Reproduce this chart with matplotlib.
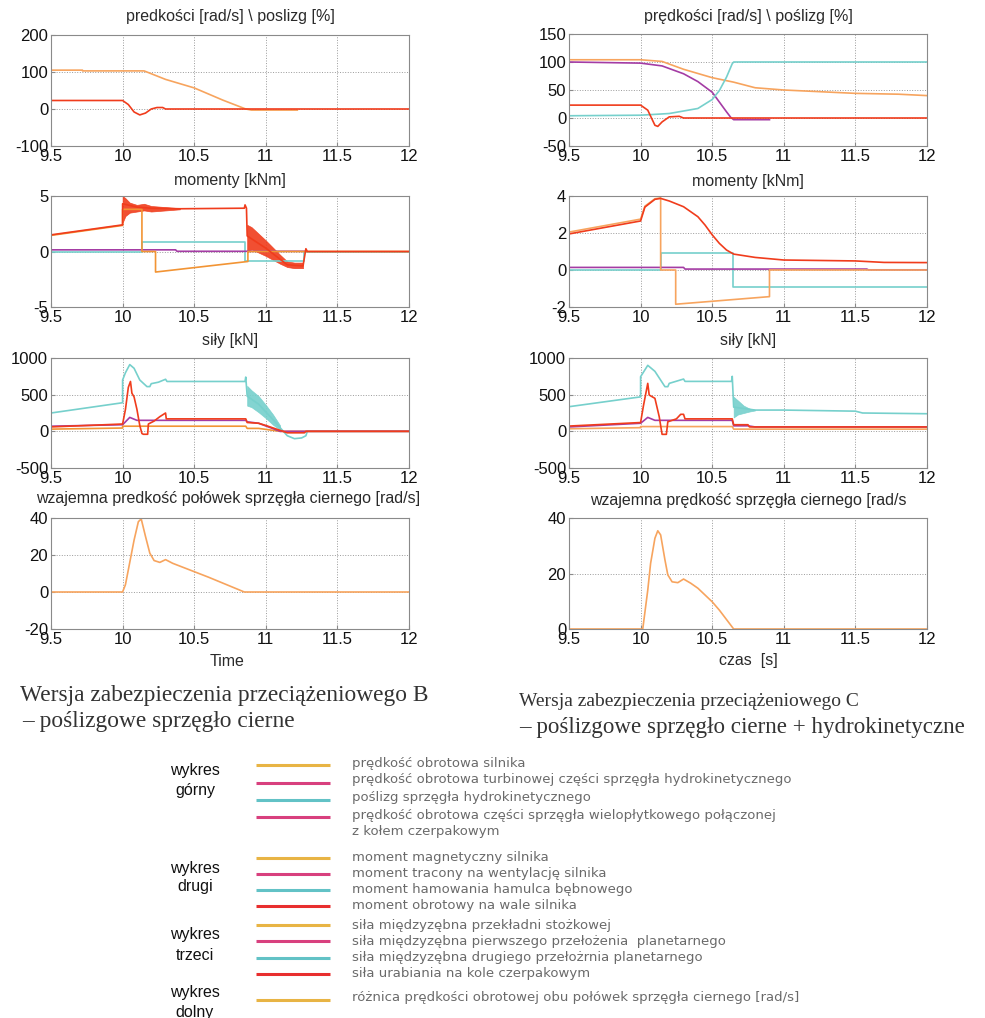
import matplotlib
matplotlib.use('Agg')
import matplotlib.pyplot as plt

W, H = 985, 1018
plt.rcParams['font.family'] = ['Liberation Sans', 'DejaVu Sans']

C_OR = '#f7a45e'
C_OR2 = '#f29434'
C_RED = '#f03c1c'
C_TEAL = '#76d0cc'
C_PURP = '#a43ca4'

XTICKS = [9.5, 10, 10.5, 11, 11.5, 12]
XTICKLABELS = ['9.5', '10', '10.5', '11', '11.5', '12']

# ---------------- Version B (left column) ----------------
# panel 1: speeds / slip
B1_motor_t = [9.5, 9.72, 9.72, 10.15, 10.3, 10.5, 10.7, 10.86, 10.9, 11.22]
B1_motor_v = [105, 105, 103, 103, 80, 57, 24, 0, -3, -3]
B1_wheel_t = [9.5, 10.0, 10.04, 10.08, 10.12, 10.16, 10.2, 10.24, 10.28, 10.3, 12]
B1_wheel_v = [23, 23, 12, -8, -16, -11, 0, 4, 4, 0, 0]

# panel 2: torques
B2_shaft_t = [9.5, 10.0, 10.0, 10.1, 10.2, 10.4, 10.85, 10.855, 10.865, 10.87, 11.0, 11.15, 11.26, 11.28, 11.29, 12]
B2_shaft_v = [1.5, 2.4, 4.3, 4.0, 3.9, 3.85, 3.9, 4.2, 3.9, 1.4, 0.3, -1.2, -1.3, 0.25, 0.0, 0.0]
B2_band1_t = [10.0, 10.02, 10.05, 10.1, 10.15, 10.2, 10.3, 10.4]
B2_band1_hi = [5.0, 4.8, 4.4, 4.2, 4.3, 4.1, 4.0, 3.9]
B2_band1_lo = [2.6, 3.2, 3.5, 3.6, 3.7, 3.6, 3.7, 3.8]
B2_band2_t = [10.87, 10.9, 11.0, 11.1, 11.15, 11.2, 11.26]
B2_band2_hi = [2.4, 2.2, 1.0, -0.3, -0.9, -1.0, -1.0]
B2_band2_lo = [-0.1, 0.2, -0.4, -1.1, -1.4, -1.5, -1.5]
B2_magn_t = [9.5, 10.0, 10.0, 10.135, 10.135, 10.23, 10.23, 10.875, 10.875, 12]
B2_magn_v = [1.45, 2.35, 3.8, 3.8, 0, 0, -1.85, -0.9, 0, 0]
B2_brake_t = [9.5, 10.135, 10.135, 10.855, 10.855, 11.27, 11.27, 12]
B2_brake_v = [0, 0, 0.88, 0.88, -0.85, -0.85, 0, 0]
B2_vent_t = [9.5, 10.37, 10.38, 11.27]
B2_vent_v = [0.15, 0.15, 0.02, 0.02]

# panel 3: forces
B3_second_t = [9.5, 10.0, 10.0, 10.02, 10.05, 10.08, 10.12, 10.17, 10.19, 10.2, 10.25, 10.3, 10.31, 10.855, 10.86, 10.87,
               10.95, 11.05, 11.1, 11.15, 11.2, 11.25, 11.28, 11.29, 12]
B3_second_v = [250, 390, 700, 800, 910, 860, 700, 610, 610, 650, 670, 710, 680, 680, 740, 480,
               370, 160, 50, -60, -100, -90, -60, 0, 0]
B3_band_t = [10.87, 10.9, 10.95, 11.0, 11.05, 11.1]
B3_band_hi = [620, 560, 480, 360, 230, 80]
B3_band_lo = [350, 330, 260, 180, 90, 20]
B3_dig_t = [9.5, 10.0, 10.02, 10.04, 10.055, 10.065, 10.08, 10.1, 10.12, 10.135, 10.145, 10.175, 10.18, 10.22, 10.26,
            10.3, 10.305, 10.86, 10.87, 10.95, 11.0, 11.12, 11.15, 11.27, 11.28, 12]
B3_dig_v = [60, 100, 300, 600, 680, 520, 470, 300, 80, -30, -40, -40, 100, 140, 200, 250, 170, 170, 120, 110, 80, 0,
            -20, -20, 0, 0]
B3_first_t = [9.5, 10.0, 10.05, 10.1, 10.86, 10.87, 10.95, 11.1, 12]
B3_first_v = [70, 90, 190, 150, 150, 130, 110, 0, 0]
B3_bevel_t = [9.5, 10.0, 10.0, 10.86, 10.87, 10.95, 11.1, 12]
B3_bevel_v = [30, 45, 70, 70, 40, 40, 0, 0]

# panel 4: relative speed of clutch halves
B4_rel_t = [9.5, 10.0, 10.02, 10.05, 10.08, 10.11, 10.13, 10.16, 10.19, 10.22, 10.26, 10.3, 10.35, 10.6, 10.85, 12]
B4_rel_v = [0, 0, 4, 16, 28, 38, 39.5, 30, 21, 17, 16, 17.5, 15.5, 8, 0, 0]

# ---------------- Version C (right column) ----------------
C1_motor_t = [9.5, 10.0, 10.15, 10.3, 10.5, 10.65, 10.8, 11.0, 11.5, 11.8, 12]
C1_motor_v = [104, 104, 101, 87, 72, 64, 54, 50, 44, 42.5, 40]
C1_clutch_t = [9.5, 10.0, 10.15, 10.3, 10.4, 10.5, 10.6, 10.63, 10.65, 10.9]
C1_clutch_v = [100, 98, 93, 79, 65, 46, 11, 1, -3, -3]
C1_slip_t = [9.5, 10.0, 10.2, 10.4, 10.5, 10.55, 10.6, 10.64, 10.65, 12]
C1_slip_v = [4, 5, 8, 17, 33, 49, 73, 97, 100, 100]
C1_wheel_t = [9.5, 10.0, 10.05, 10.1, 10.12, 10.15, 10.2, 10.27, 10.3, 12]
C1_wheel_v = [23, 23, 14, -13, -15, -7, 2, 3, 0, 0]

C2_shaft_t = [9.5, 10.0, 10.03, 10.1, 10.14, 10.2, 10.3, 10.4, 10.45, 10.5, 10.55, 10.6, 10.65, 10.8, 11.0, 11.5, 11.7, 12]
C2_shaft_v = [1.95, 2.65, 3.4, 3.82, 3.87, 3.73, 3.42, 2.88, 2.43, 1.9, 1.44, 1.08, 0.86, 0.68, 0.54, 0.49, 0.41, 0.4]
C2_magn_t = [9.5, 10.0, 10.03, 10.1, 10.14, 10.14, 10.245, 10.245, 10.9, 10.9, 12]
C2_magn_v = [2.05, 2.75, 3.45, 3.85, 3.9, 0, 0, -1.85, -1.44, 0, 0]
C2_brake_t = [9.5, 10.14, 10.14, 10.645, 10.645, 12]
C2_brake_v = [0, 0, 0.9, 0.9, -0.92, -0.92]
C2_vent_t = [9.5, 10.3, 10.31, 11.58, 11.59, 12]
C2_vent_v = [0.14, 0.14, 0.05, 0.05, 0.01, 0.01]

C3_second_t = [9.5, 10.0, 10.0, 10.05, 10.1, 10.17, 10.19, 10.2, 10.3, 10.31, 10.635, 10.64, 10.65, 10.8, 11.0, 11.5,
               11.55, 12]
C3_second_v = [336, 470, 745, 900, 818, 609, 609, 654, 713, 681, 681, 750, 330, 290, 290, 275, 250, 240]
C3_band_t = [10.65, 10.68, 10.72, 10.76, 10.8]
C3_band_hi = [470, 420, 350, 310, 295]
C3_band_lo = [190, 230, 250, 270, 285]
C3_dig_t = [9.5, 10.0, 10.02, 10.05, 10.06, 10.1, 10.13, 10.15, 10.18, 10.19, 10.25, 10.28, 10.3, 10.31, 10.64, 10.65,
            10.75, 10.76, 12]
C3_dig_v = [72, 120, 350, 654, 495, 450, 200, -41, -41, 130, 170, 232, 232, 170, 170, 90, 90, 60, 60]
C3_first_t = [9.5, 10.0, 10.05, 10.1, 10.64, 10.65, 10.75, 10.8, 12]
C3_first_v = [60, 110, 190, 150, 150, 75, 75, 60, 60]
C3_bevel_t = [9.5, 10.0, 10.0, 10.64, 10.65, 12]
C3_bevel_v = [35, 50, 65, 65, 30, 30]

C4_rel_t = [9.5, 10.015, 10.05, 10.07, 10.1, 10.12, 10.14, 10.17, 10.19, 10.22, 10.26, 10.3, 10.35, 10.4, 10.5, 10.55,
            10.65, 12]
C4_rel_v = [0, 0, 14, 23.7, 32.7, 35.4, 33.9, 24.9, 19.5, 17, 16.7, 18, 16.5, 14.7, 9.8, 6.8, 0, 0]

# ---------------- figure ----------------
fig = plt.figure(figsize=(W / 100, H / 100), dpi=100)


def px_axes(x0, y0, x1, y1):
    return fig.add_axes([x0 / W, 1 - y1 / H, (x1 - x0) / W, (y1 - y0) / H])


def style(ax, ylim, yticks):
    ax.set_xlim(9.5, 12)
    ax.set_ylim(*ylim)
    ax.set_xticks(XTICKS)
    ax.set_xticklabels(XTICKLABELS)
    ax.set_yticks(yticks)
    ax.set_yticklabels([str(v) for v in yticks])
    ax.grid(True, linestyle=':', color='#9a9a9a', linewidth=0.7)
    ax.set_axisbelow(True)
    for s in ax.spines.values():
        s.set_color('#8a8a8a')
        s.set_linewidth(0.8)
    ax.tick_params(direction='in', length=3, color='#8a8a8a', labelsize=12, pad=2,
                   labelcolor='#111111')


LW = 1.2
cols_x = [(51, 409), (569, 927)]
rows_y = [(35, 146), (196, 307), (358, 468), (518, 629)]

# left column
x0, x1 = cols_x[0]
ax = px_axes(x0, rows_y[0][0], x1, rows_y[0][1])
ax.plot(B1_motor_t, B1_motor_v, color=C_OR, lw=LW)
ax.plot(B1_wheel_t, B1_wheel_v, color=C_RED, lw=LW)
style(ax, (-100, 200), [-100, 0, 100, 200])

ax = px_axes(x0, rows_y[1][0], x1, rows_y[1][1])
ax.plot(B2_brake_t, B2_brake_v, color=C_TEAL, lw=LW)
ax.plot(B2_vent_t, B2_vent_v, color=C_PURP, lw=LW)
ax.plot(B2_magn_t, B2_magn_v, color=C_OR2, lw=LW)
ax.fill_between(B2_band1_t, B2_band1_lo, B2_band1_hi, color=C_RED, lw=0.5, alpha=0.9)
ax.fill_between(B2_band2_t, B2_band2_lo, B2_band2_hi, color=C_RED, lw=0.5, alpha=0.9)
ax.plot(B2_shaft_t, B2_shaft_v, color=C_RED, lw=LW)
style(ax, (-5, 5), [-5, 0, 5])

ax = px_axes(x0, rows_y[2][0], x1, rows_y[2][1])
ax.fill_between(B3_band_t, B3_band_lo, B3_band_hi, color=C_TEAL, lw=0.5, alpha=0.9)
ax.plot(B3_second_t, B3_second_v, color=C_TEAL, lw=LW)
ax.plot(B3_bevel_t, B3_bevel_v, color=C_OR2, lw=LW)
ax.plot(B3_first_t, B3_first_v, color=C_PURP, lw=LW)
ax.plot(B3_dig_t, B3_dig_v, color=C_RED, lw=LW)
style(ax, (-500, 1000), [-500, 0, 500, 1000])

ax = px_axes(x0, rows_y[3][0], x1, rows_y[3][1])
ax.plot(B4_rel_t, B4_rel_v, color=C_OR, lw=LW)
style(ax, (-20, 40), [-20, 0, 20, 40])

# right column
x0, x1 = cols_x[1]
ax = px_axes(x0, 34, x1, rows_y[0][1])
ax.plot(C1_motor_t, C1_motor_v, color=C_OR, lw=LW)
ax.plot(C1_clutch_t, C1_clutch_v, color=C_PURP, lw=LW)
ax.plot(C1_slip_t, C1_slip_v, color=C_TEAL, lw=LW)
ax.plot(C1_wheel_t, C1_wheel_v, color=C_RED, lw=LW)
style(ax, (-50, 150), [-50, 0, 50, 100, 150])

ax = px_axes(x0, rows_y[1][0], x1, rows_y[1][1])
ax.plot(C2_brake_t, C2_brake_v, color=C_TEAL, lw=LW)
ax.plot(C2_vent_t, C2_vent_v, color=C_PURP, lw=LW)
ax.plot(C2_magn_t, C2_magn_v, color=C_OR, lw=LW)
ax.plot(C2_shaft_t, C2_shaft_v, color=C_RED, lw=LW)
style(ax, (-2, 4), [-2, 0, 2, 4])

ax = px_axes(x0, rows_y[2][0], x1, rows_y[2][1])
ax.fill_between(C3_band_t, C3_band_lo, C3_band_hi, color=C_TEAL, lw=0.5, alpha=0.9)
ax.plot(C3_second_t, C3_second_v, color=C_TEAL, lw=LW)
ax.plot(C3_bevel_t, C3_bevel_v, color=C_OR, lw=LW)
ax.plot(C3_first_t, C3_first_v, color=C_PURP, lw=LW)
ax.plot(C3_dig_t, C3_dig_v, color=C_RED, lw=LW)
style(ax, (-500, 1000), [-500, 0, 500, 1000])

ax = px_axes(x0, rows_y[3][0], x1, rows_y[3][1])
ax.plot(C4_rel_t, C4_rel_v, color=C_OR, lw=LW)
style(ax, (0, 40), [0, 20, 40])

# overlay axes in pixel coordinates for texts / legend
ov = fig.add_axes([0, 0, 1, 1])
ov.set_xlim(0, W)
ov.set_ylim(H, 0)
ov.axis('off')
ov.patch.set_alpha(0)

TC = '#2a2a2a'
TS = 11.5
titles = [
    (230, 16, r'predkości [rad/s] \ poslizg [%]'),
    (748, 16, r'prędkości [rad/s] \ poślizg [%]'),
    (230, 180, 'momenty [kNm]'),
    (748, 181, 'momenty [kNm]'),
    (230, 341, 'siły [kN]'),
    (748, 341, 'siły [kN]'),
    (228, 499, 'wzajemna predkość połówek sprzęgła ciernego [rad/s]'),
    (748, 500, 'wzajemna prędkość sprzęgła ciernego [rad/s'),
    (227, 661, 'Time'),
    (748, 661, 'czas  [s]'),
]
for x, y, s in titles:
    ov.text(x, y, s, ha='center', va='center', fontsize=TS, color=TC)

SER = ['Liberation Serif', 'DejaVu Serif']
ov.text(20, 696, 'Wersja zabezpieczenia przeciążeniowego B', ha='left', va='center', fontsize=16.8,
        family=SER, color='#333333')
ov.text(22, 722, '– poślizgowe sprzęgło cierne', ha='left', va='center', fontsize=16.8,
        family=SER, color='#333333')
ov.text(519, 702, 'Wersja zabezpieczenia przeciążeniowego C', ha='left', va='center', fontsize=14,
        family=SER, color='#333333')
ov.text(519, 728, '– poślizgowe sprzęgło cierne + hydrokinetyczne', ha='left', va='center', fontsize=16.6,
        family=SER, color='#333333')

# legend
L_GOLD = '#e8b444'
L_PINK = '#d8407e'
L_TEAL = '#62c2c6'
L_RED = '#e82e2e'

groups = [
    (('wykres', 'górny'), (771, 791), [
        (765, L_GOLD, 'prędkość obrotowa silnika', 763),
        (783, L_PINK, 'prędkość obrotowa turbinowej części sprzęgła hydrokinetycznego', 780),
        (800, L_TEAL, 'poślizg sprzęgła hydrokinetycznego', 798),
        (817, L_PINK, 'prędkość obrotowa części sprzęgła wielopłytkowego połączonej', 815),
        (None, None, 'z kołem czerpakowym', 831),
    ]),
    (('wykres', 'drugi'), (868, 887), [
        (858, L_GOLD, 'moment magnetyczny silnika', 858),
        (874, L_PINK, 'moment tracony na wentylację silnika', 874),
        (890, L_TEAL, 'moment hamowania hamulca bębnowego', 890),
        (906, L_RED, 'moment obrotowy na wale silnika', 906),
    ]),
    (('wykres', 'trzeci'), (935, 955), [
        (925, L_GOLD, 'siła międzyzębna przekładni stożkowej', 925),
        (941, L_PINK, 'siła międzyzębna pierwszego przełożenia  planetarnego', 941),
        (958, L_TEAL, 'siła międzyzębna drugiego przełożrnia planetarnego', 958),
        (974, L_RED, 'siła urabiania na kole czerpakowym', 974),
    ]),
    (('wykres', 'dolny'), (993, 1012), [
        (1000, L_GOLD, 'różnica prędkości obrotowej obu połówek sprzęgła ciernego [rad/s]', 998),
    ]),
]
for (w1, w2), (y1, y2), entries in groups:
    ov.text(195, y1, w1, ha='center', va='center', fontsize=11.5, color='#111111')
    ov.text(195, y2, w2, ha='center', va='center', fontsize=11.5, color='#111111')
    for ly, c, s, ty in entries:
        if ly is not None:
            ov.plot([256, 330], [ly, ly], color=c, lw=2.2, solid_capstyle='butt')
        ov.text(352, ty, s, ha='left', va='center', fontsize=9.5, color='#6a6a6a',
                family=['DejaVu Sans'])

fig.savefig('out.png', dpi=100)
